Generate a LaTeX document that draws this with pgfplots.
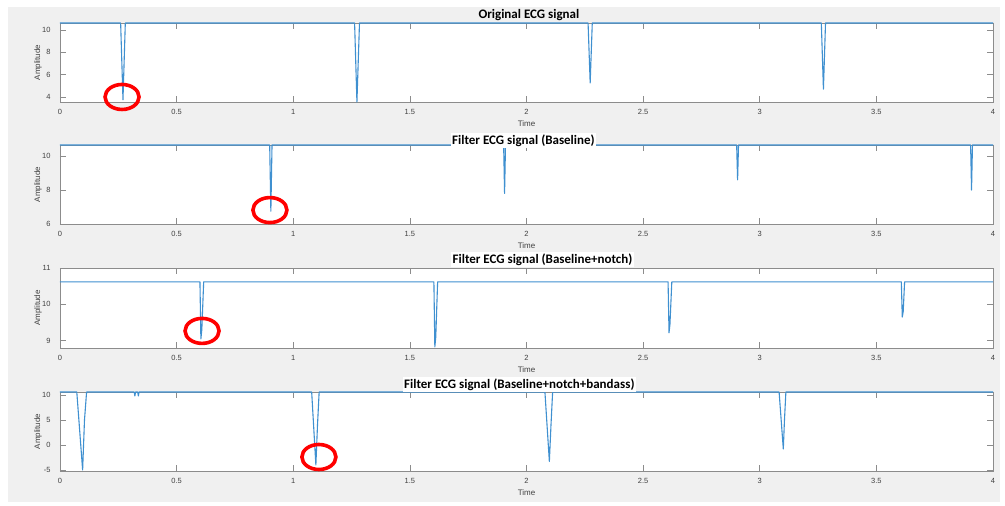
\documentclass[border=0pt]{standalone}
\usepackage{pgfplots}
\pgfplotsset{compat=1.18}
\usepackage{fontspec}
\setmainfont{Liberation Sans}
\newfontfamily\titlefont{Carlito}
\definecolor{figbg}{HTML}{F0F0F0}
\definecolor{axgray}{HTML}{8C8C8C}
\definecolor{labgray}{HTML}{404040}
\definecolor{sig}{HTML}{3F90D0}
\pgfplotsset{ecg/.style={
  scale only axis, width=933pt, height=79pt,
  anchor=south west,
  xmin=0, xmax=4, xtick={0,0.5,1,1.5,2,2.5,3,3.5,4},
  axis background/.style={fill=white},
  axis line style={draw=axgray, line width=0.7pt},
  every tick/.style={draw=axgray, line width=0.7pt},
  major tick length=6pt,
  tick align=inside,
  ticklabel style={font=\fontsize{7.5}{8}\selectfont, text=labgray},
  xticklabel style={anchor=center, yshift=-10pt},
  yticklabel style={anchor=east, xshift=-6pt},
  /pgf/number format/assume math mode=true,
  xlabel={Time}, ylabel={Amplitude},
  every axis x label/.style={at={(axis description cs:0.5,0)}, anchor=center, yshift=-22pt, font=\fontsize{8}{9}\selectfont, text=labgray},
  every axis y label/.style={at={(axis description cs:0,0.5)}, anchor=center, xshift=-22pt, rotate=90, font=\fontsize{8}{9}\selectfont, text=labgray},
  clip=false,
  no markers,
}}
\tikzset{sigline/.style={draw=sig, line width=1.1pt, mark=none, line join=round}}
\begin{document}
\begin{tikzpicture}[x=1pt,y=1pt]
\path[use as bounding box] (0,0) rectangle (1005,-506);
\fill[figbg] (8,-7) rectangle (1000,-502);
% subplot 1
\begin{axis}[ecg, at={(60pt,-102pt)}, ymin=3.55, ymax=10.62, ytick={4,6,8,10}]
\addplot[sigline] coordinates {(0,10.62) (0.26,10.62) (0.27,3.75) (0.28,10.62) (1.263,10.62) (1.273,3.55) (1.284,10.62) (2.264,10.62) (2.273,5.25) (2.282,10.62) (3.264,10.62) (3.273,4.7) (3.282,10.62) (4,10.62)};
\coordinate (c1) at (axis cs:0.266,4.0);
\end{axis}
% subplot 2
\begin{axis}[ecg, at={(60pt,-224pt)}, ymin=6, ymax=10.65, ytick={6,8,10}]
\addplot[sigline] coordinates {(0,10.65) (0.899,10.65) (0.904,6.75) (0.909,10.65) (1.902,10.65) (1.906,7.8) (1.91,10.65) (2.901,10.65) (2.905,8.6) (2.909,10.65) (3.904,10.65) (3.908,8.0) (3.912,10.65) (4,10.65)};
\coordinate (c2) at (axis cs:0.900,6.82);
\end{axis}
% subplot 3
\begin{axis}[ecg, at={(60pt,-348pt)}, height=80pt, ymin=8.8, ymax=11, ytick={9,10,11}]
\addplot[sigline] coordinates {(0,10.62) (0.600,10.62) (0.604,9.05) (0.608,9.3) (0.616,10.62) (1.603,10.62) (1.607,8.83) (1.611,9.1) (1.619,10.62) (2.607,10.62) (2.611,9.22) (2.615,9.45) (2.623,10.62) (3.607,10.62) (3.611,9.65) (3.615,9.8) (3.621,10.62) (4,10.62)};
\coordinate (c3) at (axis cs:0.609,9.27);
\end{axis}
% subplot 4
\begin{axis}[ecg, at={(60pt,-471pt)}, ymin=-5.2, ymax=10.6, ytick={-5,0,5,10}]
\addplot[sigline] coordinates {(0,10.6) (0.072,10.6) (0.097,-5) (0.105,5) (0.114,10.6) (0.318,10.6) (0.321,9.8) (0.324,10.6) (0.333,10.6) (0.336,9.8) (0.339,10.6) (1.079,10.6) (1.097,-4.0) (1.104,4) (1.111,10.6) (2.079,10.6) (2.098,-3.3) (2.105,4) (2.112,10.6) (3.083,10.6) (3.101,-0.8) (3.106,5) (3.112,10.6) (4,10.6)};
\coordinate (c4) at (axis cs:1.110,-2.4);
\end{axis}
% titles
\node[font=\titlefont\bfseries\fontsize{13}{15}\selectfont, fill=figbg, anchor=base east, inner sep=1.5pt] at (581,-18) {Original ECG signal};
\node[font=\titlefont\bfseries\fontsize{13}{15}\selectfont, fill=white, anchor=base west, inner sep=1.5pt] at (450.5,-144) {Filter ECG signal (Baseline)};
\node[font=\titlefont\bfseries\fontsize{13}{15}\selectfont, fill=white, anchor=base east, inner sep=1.5pt] at (634,-263) {Filter ECG signal (Baseline+notch)};
\node[font=\titlefont\bfseries\fontsize{13}{15}\selectfont, fill=white, anchor=base west, inner sep=1.5pt] at (402.5,-388) {Filter ECG signal (Baseline+notch+bandass)};
% annotations
\draw[red, line width=3.6pt] (c1) ellipse [x radius=17pt, y radius=12.5pt];
\draw[red, line width=3.6pt] (c2) ellipse [x radius=17pt, y radius=12.5pt];
\draw[red, line width=3.6pt] (c3) ellipse [x radius=17pt, y radius=12.5pt];
\draw[red, line width=3.6pt] (c4) ellipse [x radius=17pt, y radius=12.5pt];
\end{tikzpicture}
\end{document}
